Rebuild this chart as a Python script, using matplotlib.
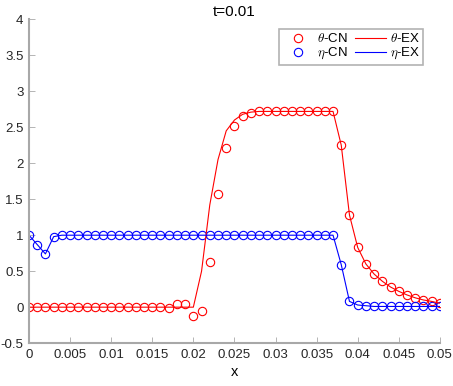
import numpy as np
from matplotlib import pyplot as plt

plt.rcParams['font.family'] = ['Liberation Sans', 'DejaVu Sans']
plt.rcParams['mathtext.fontset'] = 'cm'
plt.rcParams['axes.unicode_minus'] = False

# grid points (x = 0 .. 0.05, step 0.001)
x = np.arange(51) / 1000.0

theta_cn = [0, 0, 0, 0, 0, 0, 0, 0, 0, 0,
            0, 0, 0, 0, 0, 0, 0, -0.01, 0.045, 0.05,
            -0.12, -0.06, 0.63, 1.57, 2.21, 2.52, 2.65, 2.70, 2.72, 2.72,
            2.72, 2.72, 2.72, 2.72, 2.72, 2.72, 2.72, 2.72, 2.25, 1.28,
            0.83, 0.60, 0.46, 0.36, 0.28, 0.22, 0.17, 0.13, 0.10, 0.08,
            0.055]
theta_ex = [0, 0, 0, 0, 0, 0, 0, 0, 0, 0,
            0, 0, 0, 0, 0, 0, 0, 0, 0, 0,
            0, 0.50, 1.42, 2.05, 2.45, 2.60, 2.68, 2.71, 2.72, 2.72,
            2.72, 2.72, 2.72, 2.72, 2.72, 2.72, 2.72, 2.72, 2.25, 1.28,
            0.83, 0.60, 0.46, 0.36, 0.28, 0.22, 0.17, 0.13, 0.10, 0.08,
            0.055]
eta_cn = [1.0, 0.87, 0.74, 0.98, 1, 1, 1, 1, 1, 1,
          1, 1, 1, 1, 1, 1, 1, 1, 1, 1,
          1, 1, 1, 1, 1, 1, 1, 1, 1, 1,
          1, 1, 1, 1, 1, 1, 1, 1, 0.59, 0.08,
          0.03, 0.02, 0.01, 0.01, 0.01, 0.01, 0.01, 0.01, 0.01, 0.01,
          0.01]
eta_ex = list(eta_cn)

xticks = np.arange(0, 0.0501, 0.005)
xticklabels = ['0', '0.005', '0.01', '0.015', '0.02', '0.025', '0.03',
               '0.035', '0.04', '0.045', '0.05']
yticks = np.arange(-0.5, 4.01, 0.5)
yticklabels = ['-0.5', '0', '0.5', '1', '1.5', '2', '2.5', '3', '3.5', '4']

fig = plt.figure(figsize=(4.53, 3.86), dpi=100)
ax = fig.add_axes([0.064, 0.111, 0.907, 0.839])

h1, = ax.plot(x, theta_cn, 'o', color='#ff0000', mfc='none', ms=6, mew=0.8, label=r'$\theta$-CN')
h2, = ax.plot(x, eta_cn, 'o', color='#0000ff', mfc='none', ms=6, mew=0.8, label=r'$\eta$-CN')
h3, = ax.plot(x, theta_ex, '-', color='#ff0000', lw=0.8, label=r'$\theta$-EX')
h4, = ax.plot(x, eta_ex, '-', color='#0000ff', lw=0.8, label=r'$\eta$-EX')

ax.set_xlim(0, 0.05)
ax.set_ylim(-0.5, 4)
ax.set_xticks(xticks)
ax.set_xticklabels(xticklabels)
ax.set_yticks(yticks)
ax.set_yticklabels(yticklabels)

ax.spines['top'].set_visible(False)
ax.spines['right'].set_visible(False)
for s in ['left', 'bottom']:
    ax.spines[s].set_color('#a8a8a8')
    ax.spines[s].set_linewidth(1.5)
ax.tick_params(direction='in', length=4, width=0.6, color='#a8a8a8',
               labelsize=9.5, labelcolor='#262626', pad=4)

ax.set_title('t=0.01', fontsize=11, color='#000000', pad=2.5)
ax.set_xlabel('x', fontsize=10.5, labelpad=3)

leg = ax.legend(handles=[h1, h2, h3, h4], ncol=2, loc='upper right',
                bbox_to_anchor=(0.96, 0.97), fontsize=9.5, frameon=True,
                fancybox=False, edgecolor='#a0a0a0', handlelength=2.4,
                handletextpad=0.25, columnspacing=0.5, borderpad=0.25,
                labelspacing=0.05, borderaxespad=0)
leg.get_frame().set_linewidth(1.2)

fig.savefig('out.png', dpi=100)
